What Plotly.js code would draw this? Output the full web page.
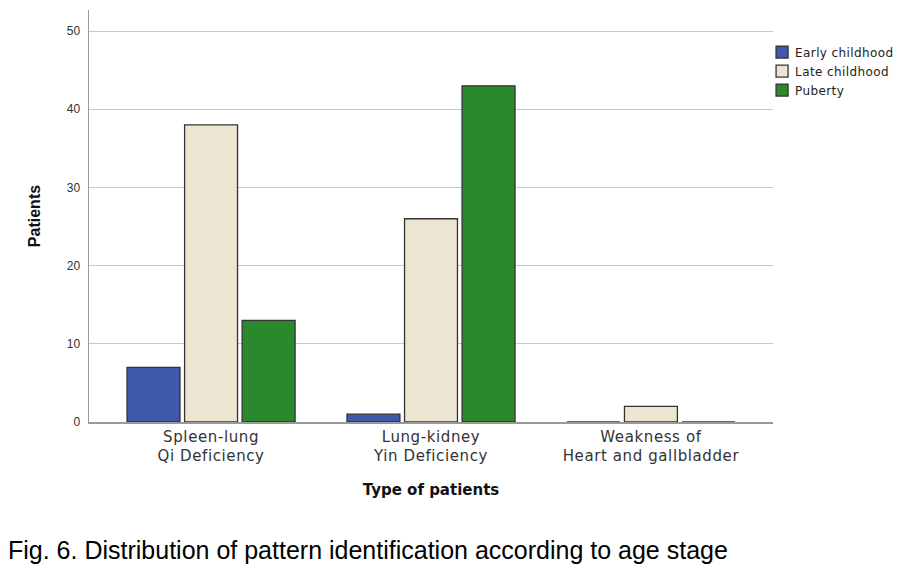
<!DOCTYPE html>
<html>
<head>
<meta charset="utf-8">
<script src="https://cdn.plot.ly/plotly-3.0.1.min.js"></script>
<style>
  html, body { margin: 0; padding: 0; background: #fff; }
  #chart { width: 919px; height: 566px; }
  /* the source figure uses a wide, loosely spaced face */
  #chart .xtick text { letter-spacing: 0.6px; }
  #chart .legendtext { letter-spacing: 0.4px; }
</style>
</head>
<body>
<div id="chart"></div>
<script>
// categories and counts
const categories = ["Spleen-lung<br>Qi Deficiency", "Lung-kidney<br>Yin Deficiency", "Weakness of<br>Heart and gallbladder"]
const earlyChildhood = [7, 1, 0]
const lateChildhood = [38, 26, 2]
const puberty = [13, 43, 0]
const yTicks = [0, 10, 20, 30, 40, 50]

const outline = { color: "#333333", width: 1.3 }

const mkBar = (name, y, color) => ({
  type: "bar",
  name,
  x: categories,
  y,
  marker: { color, line: outline },
  hoverinfo: "y",
})

const traces = [
  mkBar("Early childhood", earlyChildhood, "#3F58AB"),
  mkBar("Late childhood", lateChildhood, "#EBE5D1"),
  mkBar("Puberty", puberty, "#2A892C"),
]

const layout = {
  width: 919,
  height: 566,
  margin: { l: 89, r: 146, t: 10, b: 144 },
  paper_bgcolor: "#fff",
  plot_bgcolor: "#fff",
  font: { family: "Liberation Sans, Arial, sans-serif", color: "#222" },
  barmode: "group",
  bargap: 0.215,
  bargroupgap: 0.08,
  showlegend: true,
  legend: {
    x: 0.984, y: 0.933, xanchor: "left", yanchor: "top",
    font: { size: 12, color: "#222", family: "DejaVu Sans, sans-serif" },
    tracegroupgap: 0, itemwidth: 30,
  },
  xaxis: {
    range: [-0.555, 2.555],
    showline: true, linecolor: "#999", linewidth: 1.5,
    ticks: "", tickfont: { size: 15, color: "#333", family: "DejaVu Sans, sans-serif" },
    title: { text: "<b>Type of patients</b>", font: { size: 15, color: "#111", family: "DejaVu Sans, sans-serif" }, standoff: 20 },
  },
  yaxis: {
    range: [0, 52.7],
    tickvals: yTicks,
    showline: true, linecolor: "#999", linewidth: 1.5,
    showgrid: true, gridcolor: "#c8c8c8", gridwidth: 1,
    zeroline: false,
    ticks: "", ticklen: 0, ticklabelstandoff: 5,
    tickfont: { size: 12, color: "#333" },
    title: { text: "<b>Patients</b>", font: { size: 16, color: "#111" }, standoff: 22 },
  },
  annotations: [{
    xref: "paper", yref: "paper",
    x: -83 / 684, y: -0.311, xanchor: "left", yanchor: "middle",
    text: "Fig. 6. Distribution of pattern identification according to age stage",
    showarrow: false,
    font: { size: 25, color: "#000", family: "Liberation Sans, sans-serif" },
  }],
}

Plotly.newPlot("chart", traces, layout, { displayModeBar: false, staticPlot: true }).then(gd => {
  // pull legend labels closer to their swatches, as in the source
  gd.querySelectorAll(".legendtext").forEach(t => t.setAttribute("x", 33))
})
</script>
</body>
</html>
